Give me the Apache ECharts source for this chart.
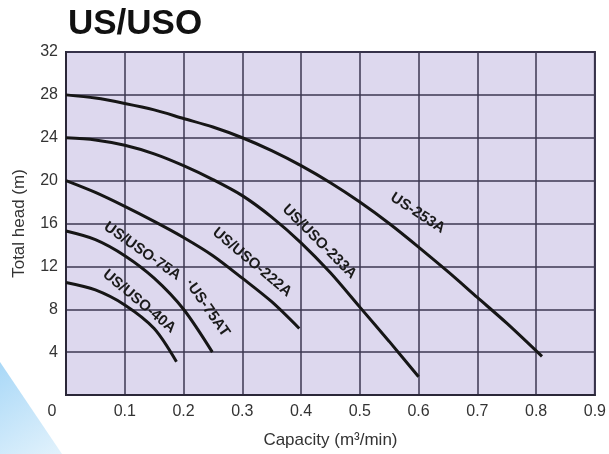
<!DOCTYPE html>
<html>
<head>
<meta charset="utf-8">
<script src="https://cdn.jsdelivr.net/npm/echarts@6/dist/echarts.min.js"></script>
<style>
html,body{margin:0;padding:0;background:#fff;}
#chart{width:609px;height:454px;}
</style>
</head>
<body>
<div id="chart"></div>
<script>
// ---- data ----
const titleText = 'US/USO';
const xAxisName = 'Capacity (m³/min)';
const yAxisName = 'Total head (m)';

const cap253 = [0, 0.05, 0.1, 0.15, 0.2, 0.25, 0.3, 0.35, 0.4, 0.45, 0.5, 0.55, 0.6, 0.65, 0.7, 0.75, 0.81];
const head253 = [28, 27.7, 27.2, 26.6, 25.8, 25.0, 24.0, 22.8, 21.4, 19.8, 18.0, 16.0, 13.8, 11.5, 9.1, 6.7, 3.6];

const cap233 = [0, 0.05, 0.1, 0.15, 0.2, 0.25, 0.3, 0.35, 0.4, 0.45, 0.5, 0.55, 0.6];
const head233 = [24, 23.8, 23.3, 22.5, 21.4, 20.1, 18.6, 16.6, 14.2, 11.4, 8.2, 5.0, 1.7];

const cap222 = [0, 0.05, 0.1, 0.15, 0.2, 0.25, 0.3, 0.35, 0.397];
const head222 = [20, 18.9, 17.6, 16.2, 14.7, 13.0, 10.9, 8.7, 6.2];

const cap75 = [0, 0.05, 0.1, 0.15, 0.2, 0.249];
const head75 = [15.3, 14.5, 13.0, 10.9, 8.0, 4.0];

const cap40 = [0, 0.05, 0.1, 0.15, 0.188];
const head40 = [10.5, 9.8, 8.4, 6.2, 3.1];

// curve label texts, their anchor positions (data units) and angles
const labelTexts = ['US-253A', 'US/USO-233A', 'US/USO-222A', 'US/USO-75A', '·US-75AT', 'US/USO-40A'];
const labelX = [0.593, 0.424, 0.31, 0.124, 0.232, 0.118];
const labelY = [16.5, 13.9, 11.95, 12.95, 7.8, 8.3];
const labelAngle = [-33, -45, -40, -35, -55, -40];

const xMin = 0, xMax = 0.9, xStep = 0.1;
const yMin = 0, yMax = 32, yStep = 4;

// ---- chart ----
const FONT = '"Liberation Sans", Arial, sans-serif';
const zip = (a, b) => a.map((v, i) => [v, b[i]]);
const curves = [
  zip(cap253, head253), zip(cap233, head233), zip(cap222, head222),
  zip(cap75, head75), zip(cap40, head40)
];
const labelSeriesIndex = [0, 1, 2, 3, 3, 4];

const series = curves.map((d, si) => ({
  type: 'line',
  data: d,
  smooth: 0.3,
  showSymbol: false,
  lineStyle: { color: '#161616', width: 3 },
  silent: true,
  markPoint: {
    symbol: 'circle',
    symbolSize: 0,
    data: labelTexts.map((t, i) => ({ t, i })).filter(o => labelSeriesIndex[o.i] === si).map(o => ({
      coord: [labelX[o.i], labelY[o.i]],
      label: {
        show: true,
        formatter: o.t,
        position: 'inside',
        rotate: labelAngle[o.i],
        offset: [0, -6],
        align: 'center',
        verticalAlign: 'middle',
        color: '#1a1a1a',
        fontFamily: FONT,
        fontWeight: 'bold',
        fontSize: 15
      }
    }))
  }
}));

const chart = echarts.init(document.getElementById('chart'), null, { renderer: 'canvas' });
chart.setOption({
  animation: false,
  backgroundColor: '#ffffff',
  title: {
    text: titleText,
    left: 63,
    top: 2,
    textStyle: { fontFamily: FONT, fontWeight: 'bold', fontSize: 35, color: '#111' }
  },
  graphic: [{
    type: 'polygon',
    z: -10,
    silent: true,
    shape: { points: [[0, 362], [62, 454], [0, 454]] },
    style: {
      fill: new echarts.graphic.LinearGradient(0, 0, 1, 1, [
        { offset: 0, color: '#a9d8f7' },
        { offset: 1, color: '#e2f2fc' }
      ])
    }
  }],
  grid: {
    left: 66, right: 11, top: 52, bottom: 58,
    show: true,
    backgroundColor: '#ddd8ee',
    borderColor: '#2a2738',
    borderWidth: 2
  },
  xAxis: {
    type: 'value',
    min: xMin, max: xMax, interval: xStep,
    name: xAxisName,
    nameLocation: 'middle',
    nameGap: 37,
    nameTextStyle: { fontFamily: FONT, fontSize: 17, color: '#333' },
    axisLine: { show: true, lineStyle: { color: '#2a2738', width: 2 } },
    axisTick: { show: false },
    splitLine: { show: true, lineStyle: { color: '#3b3750', width: 1.5 } },
    axisLabel: {
      margin: 9,
      fontFamily: FONT,
      fontSize: 16,
      color: '#333',
      formatter: v => v === 0 ? '{z|0}' : (Math.round(v * 10) / 10).toFixed(1),
      rich: { z: { fontFamily: FONT, fontSize: 16, color: '#333', padding: [0, 28, 0, 0] } }
    }
  },
  yAxis: {
    type: 'value',
    min: yMin, max: yMax, interval: yStep,
    name: yAxisName,
    nameLocation: 'middle',
    nameGap: 38,
    nameRotate: 90,
    nameTextStyle: { fontFamily: FONT, fontSize: 17, color: '#333' },
    axisLine: { show: true, lineStyle: { color: '#2a2738', width: 2 } },
    axisTick: { show: false },
    splitLine: { show: true, lineStyle: { color: '#3b3750', width: 1.5 } },
    axisLabel: {
      margin: 8,
      fontFamily: FONT,
      fontSize: 16,
      color: '#333',
      formatter: v => v === 0 ? '' : String(v)
    }
  },
  series: series
});
</script>
</body>
</html>
